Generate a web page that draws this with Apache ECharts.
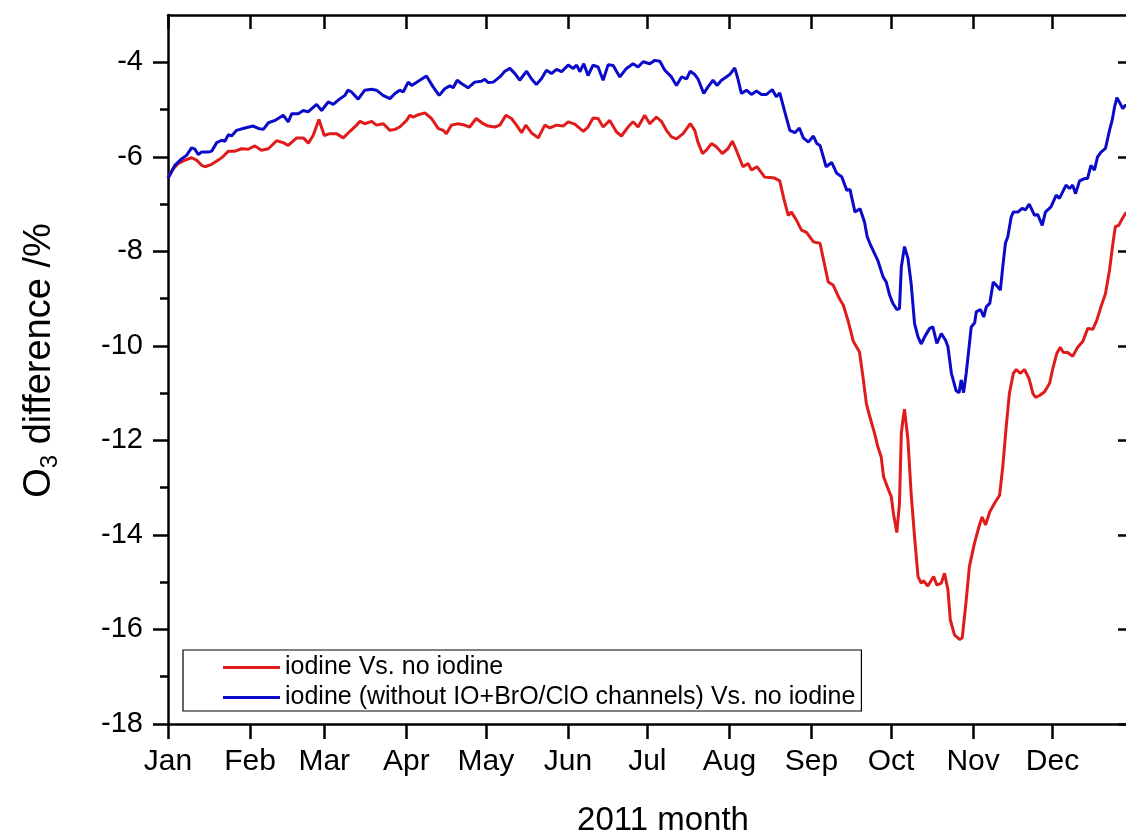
<!DOCTYPE html>
<html>
<head>
<meta charset="utf-8">
<script src="https://cdn.jsdelivr.net/npm/echarts@6/dist/echarts.min.js"></script>
<style>
  html, body { margin: 0; padding: 0; background: #ffffff; }
  #chart { width: 1126px; height: 835px; }
</style>
</head>
<body>
<div id="chart"></div>
<script>
// Month names and the day-of-year on which each month begins (2011)
const monthNames = ['Jan','Feb','Mar','Apr','May','Jun','Jul','Aug','Sep','Oct','Nov','Dec'];
const monthStarts = [0, 31, 59, 90, 120, 151, 181, 212, 243, 273, 304, 334];

// Y-axis tick values
const majorTicks = [-18, -16, -14, -12, -10, -8, -6, -4];
const minorTicks = [-17, -15, -13, -11, -9, -7, -5];

// Series names
const seriesNames = [
  'iodine Vs. no iodine',
  'iodine (without IO+BrO/ClO channels) Vs. no iodine'
];

// O3 difference (%) by day of year: iodine vs. no iodine
const redSeries = [
  [0,-6.43],[2,-6.25],[3.9,-6.14],[6.4,-6.07],[8.9,-6.02],[10.8,-6.07],[12.7,-6.18],[14,-6.21],
  [16.5,-6.16],[19,-6.07],[20.9,-5.99],[22.8,-5.88],[25.3,-5.88],[27.8,-5.83],[30.3,-5.84],
  [32.8,-5.77],[35.3,-5.86],[37.9,-5.83],[41,-5.66],[43.5,-5.7],[45.4,-5.76],[48.6,-5.6],
  [51.1,-5.6],[53,-5.71],[54.8,-5.55],[57,-5.21],[59,-5.55],[61.1,-5.51],[63.6,-5.51],
  [66.2,-5.6],[68.7,-5.46],[71.2,-5.33],[72.5,-5.25],[74.3,-5.3],[76.9,-5.25],[78.7,-5.33],
  [81.3,-5.3],[83.8,-5.44],[85.7,-5.42],[87.5,-5.37],[90.1,-5.23],[91.3,-5.12],[92.6,-5.16],
  [94.5,-5.11],[97,-5.07],[99.5,-5.19],[102,-5.4],[103.9,-5.44],[105.1,-5.51],[107,-5.33],
  [109.5,-5.3],[111.4,-5.32],[113.9,-5.37],[116.4,-5.19],[119,-5.3],[120.9,-5.35],[123.4,-5.37],
  [125.3,-5.33],[127.6,-5.12],[129.7,-5.19],[131.6,-5.33],[133.5,-5.49],[135.1,-5.33],
  [137.2,-5.49],[139.8,-5.6],[142.3,-5.33],[144.2,-5.39],[146.7,-5.33],[149.2,-5.35],
  [151.1,-5.26],[153.6,-5.31],[156.8,-5.46],[158.6,-5.37],[160.5,-5.18],[162.4,-5.19],
  [164.3,-5.37],[166.8,-5.23],[169.3,-5.47],[171.2,-5.56],[173.7,-5.37],[175.6,-5.26],
  [177.5,-5.37],[180,-5.12],[181.9,-5.3],[184.4,-5.16],[186.3,-5.25],[188.2,-5.44],
  [190.1,-5.58],[192,-5.62],[194.5,-5.51],[197.2,-5.3],[198.9,-5.44],[200.1,-5.69],
  [201.8,-5.93],[203.3,-5.86],[205.2,-5.72],[207.1,-5.79],[209.3,-5.93],[211.4,-5.83],
  [213.1,-5.67],[214.6,-5.86],[217.1,-6.21],[219,-6.14],[220.3,-6.28],[222.4,-6.21],
  [225.3,-6.43],[227.2,-6.44],[229.1,-6.45],[231,-6.51],[232.5,-6.88],[234.2,-7.24],
  [235.4,-7.17],[237.3,-7.34],[239.2,-7.55],[241.1,-7.6],[243.7,-7.8],[246.2,-7.83],
  [247.4,-8.15],[249.3,-8.65],[251.2,-8.72],[253.5,-9.0],[255,-9.14],[256.9,-9.49],
  [258.8,-9.91],[261.1,-10.13],[262.4,-10.65],[263.7,-11.22],[265,-11.5],[266.8,-11.85],
  [268,-12.13],[269.3,-12.35],[270.2,-12.77],[271.8,-13.01],[273.1,-13.19],[273.9,-13.54],
  [275.2,-13.95],[276.2,-13.33],[276.9,-11.85],[277.5,-11.57],[278.1,-11.34],[279.4,-11.99],
  [280.6,-13.12],[281.9,-14.04],[283.2,-14.88],[284.4,-15.02],[285.3,-14.97],[286.9,-15.08],
  [289.1,-14.88],[290.3,-15.06],[292,-15.02],[293.2,-14.81],[294.5,-15.16],[295.4,-15.8],
  [297,-16.12],[298.9,-16.21],[299.9,-16.18],[301.4,-15.38],[302.6,-14.67],[304.5,-14.18],
  [306.4,-13.79],[307.4,-13.62],[308.7,-13.79],[310.3,-13.51],[312.1,-13.33],[314,-13.16],
  [315.2,-12.56],[316.5,-11.71],[317.7,-11.01],[319.2,-10.58],[320.3,-10.5],[321.8,-10.58],
  [323.4,-10.5],[325.1,-10.69],[326.6,-11.01],[327.6,-11.09],[329.1,-11.05],[331,-10.97],
  [332.9,-10.79],[334.1,-10.48],[335.6,-10.16],[336.9,-10.03],[338.1,-10.14],[339.7,-10.14],
  [341.6,-10.22],[343.5,-10.03],[345.4,-9.91],[347.3,-9.63],[349.2,-9.65],[350.7,-9.46],
  [352.3,-9.17],[354,-8.89],[355.5,-8.4],[356.7,-7.87],[357.7,-7.48],[359,-7.45],
  [360.3,-7.31],[361.5,-7.2],[363,-7.15]
];

// O3 difference (%) by day of year: iodine without IO+BrO/ClO channels vs. no iodine
const blueSeries = [
  [0,-6.46],[2.6,-6.18],[5.2,-6.04],[7,-5.97],[8.9,-5.81],[10.2,-5.84],[11.4,-5.95],[12.7,-5.9],
  [15.2,-5.9],[16.5,-5.88],[18.4,-5.7],[20.3,-5.65],[21.5,-5.67],[22.8,-5.53],[24,-5.56],
  [25.9,-5.44],[29,-5.39],[32.2,-5.35],[34.1,-5.4],[36,-5.42],[37.9,-5.28],[40.4,-5.23],
  [43.5,-5.12],[45.4,-5.26],[46.7,-5.09],[49.2,-5.09],[51.1,-5.02],[52.9,-5.05],[56.1,-4.89],
  [58,-5.02],[60.5,-4.84],[62.4,-4.89],[64.3,-4.8],[66.8,-4.7],[68,-4.59],[69.3,-4.63],
  [71.8,-4.78],[74.3,-4.59],[76.9,-4.57],[78.7,-4.59],[81.2,-4.7],[83.8,-4.77],[85.7,-4.66],
  [87.5,-4.59],[88.8,-4.63],[90.7,-4.42],[92,-4.49],[94.5,-4.4],[97.6,-4.29],[100.1,-4.52],
  [102.4,-4.7],[104.5,-4.56],[106.4,-4.5],[107.7,-4.54],[109.2,-4.38],[110.8,-4.45],
  [113.3,-4.54],[115.8,-4.42],[118.4,-4.4],[119.6,-4.36],[120.9,-4.43],[122.8,-4.42],
  [125.3,-4.31],[127.2,-4.19],[129.1,-4.13],[131,-4.24],[132.8,-4.38],[135.4,-4.19],
  [137.2,-4.35],[139.1,-4.47],[141,-4.35],[142.9,-4.17],[144.8,-4.24],[146.7,-4.15],
  [148.6,-4.2],[151.1,-4.06],[153,-4.13],[154.3,-4.06],[155.5,-4.2],[157,-4.03],[158.6,-4.28],
  [160.5,-4.06],[162.4,-4.1],[164.3,-4.38],[166.2,-4.05],[168.1,-4.07],[170.6,-4.31],
  [173.1,-4.13],[175.6,-4.03],[177.5,-4.1],[179.4,-3.99],[181.9,-4.03],[183.8,-3.96],
  [185.7,-3.98],[187.6,-4.17],[190.1,-4.31],[192,-4.49],[193.9,-4.31],[195.8,-4.35],
  [197.2,-4.19],[198.9,-4.26],[200.1,-4.35],[202.3,-4.66],[203.9,-4.52],[205.8,-4.38],
  [207.3,-4.49],[209,-4.38],[210.8,-4.31],[212.1,-4.26],[214,-4.12],[215.2,-4.35],
  [216.5,-4.66],[218.4,-4.59],[220.3,-4.68],[222.2,-4.61],[224.1,-4.68],[226,-4.68],
  [228.2,-4.58],[229.7,-4.73],[231,-4.65],[232.9,-5.05],[234.8,-5.44],[236.7,-5.49],
  [238.4,-5.39],[239.9,-5.6],[241.8,-5.69],[243.7,-5.56],[245,-5.72],[246.2,-5.76],
  [248.5,-6.21],[250.6,-6.12],[252.5,-6.35],[254.4,-6.42],[256.3,-6.71],[257.5,-6.69],
  [259.4,-7.17],[261.3,-7.1],[263,-7.38],[264,-7.69],[265,-7.83],[266.8,-8.05],[268,-8.19],
  [270,-8.54],[271.2,-8.65],[272.5,-8.93],[273.7,-9.1],[275.2,-9.23],[276.2,-9.21],
  [276.9,-8.33],[278.1,-7.9],[279.4,-8.15],[280.6,-8.68],[281.9,-9.53],[283.2,-9.81],
  [284.4,-9.96],[285.7,-9.81],[287.6,-9.63],[288.8,-9.6],[290.3,-9.95],[292,-9.74],
  [293.6,-9.88],[294.5,-10.02],[295.8,-10.58],[297.6,-10.95],[298.7,-10.99],[299.5,-10.72],
  [300.4,-10.99],[301.4,-10.58],[303.3,-9.6],[304.6,-9.51],[305.2,-9.28],[306.8,-9.23],
  [308,-9.39],[309,-9.17],[310.3,-9.1],[311.6,-8.65],[312.8,-8.72],[314.3,-8.82],
  [315.2,-8.33],[316.2,-7.83],[317.1,-7.69],[318.4,-7.27],[319.2,-7.17],[320.9,-7.17],
  [322.5,-7.09],[323.8,-7.12],[325.2,-7.0],[327.2,-7.24],[328.4,-7.22],[330.1,-7.45],
  [331.3,-7.17],[333.4,-7.06],[335.4,-6.81],[336.6,-6.88],[339.1,-6.6],[340.4,-6.67],
  [341.6,-6.6],[342.7,-6.78],[344.2,-6.51],[346.1,-6.46],[347.2,-6.46],[348.5,-6.18],
  [349.8,-6.28],[351,-6.0],[352.3,-5.9],[354,-5.82],[355.5,-5.44],[356.5,-5.23],
  [357.4,-4.95],[358.3,-4.75],[359.5,-4.87],[360.5,-4.98],[361.5,-4.91],[363,-4.95]
];

const FONT = '"Liberation Sans", Arial, Helvetica, sans-serif';
const AXIS_W = 2.5;
const black = '#000000';

const chart = echarts.init(document.getElementById('chart'), null, { renderer: 'canvas' });

const yBase = {
  type: 'value', min: -18, max: -3, gridIndex: 0,
  splitLine: { show: false }
};

chart.setOption({
  backgroundColor: '#ffffff',
  animation: false,
  textStyle: { fontFamily: FONT, color: black },
  grid: { left: 168, top: 15, width: 964, height: 709, outerBoundsMode: 'none', containLabel: false },
  legend: {
    data: seriesNames,
    orient: 'vertical',
    left: 183, top: 650,
    padding: [5, 6, 1, 40],
    itemGap: 5,
    itemWidth: 57, itemHeight: 3,
    icon: 'rect',
    borderColor: black, borderWidth: 1.2, borderRadius: 0,
    backgroundColor: '#ffffff',
    textStyle: { fontFamily: FONT, fontSize: 25, lineHeight: 25, color: black }
  },
  xAxis: [
    {
      type: 'value', min: 0, max: 364, position: 'bottom',
      axisLine: { show: true, onZero: false, lineStyle: { color: black, width: AXIS_W } },
      axisTick: { show: true, inside: false, length: 15, customValues: monthStarts,
                  lineStyle: { color: black, width: AXIS_W } },
      axisLabel: { show: true, customValues: monthStarts, margin: 23, fontSize: 30,
                   fontFamily: FONT, color: black,
                   formatter: v => monthNames[monthStarts.indexOf(v)] || '' },
      splitLine: { show: false },
      name: '2011 month', nameLocation: 'middle', nameGap: 80,
      nameTextStyle: { fontSize: 33, fontFamily: FONT, color: black, padding: [0, 0, 0, 26] }
    },
    {
      type: 'value', min: 0, max: 364, position: 'top',
      axisLine: { show: true, onZero: false, lineStyle: { color: black, width: AXIS_W } },
      axisTick: { show: true, inside: true, length: 14, customValues: monthStarts,
                  lineStyle: { color: black, width: AXIS_W } },
      axisLabel: { show: false },
      splitLine: { show: false }
    }
  ],
  yAxis: [
    Object.assign({}, yBase, {
      position: 'left',
      axisLine: { show: true, onZero: false, lineStyle: { color: black, width: AXIS_W } },
      axisTick: { show: true, inside: false, length: 15, customValues: majorTicks,
                  lineStyle: { color: black, width: AXIS_W } },
      axisLabel: { show: true, customValues: majorTicks, margin: 25, fontSize: 29,
                   fontFamily: FONT, color: black },
      name: '{a|O}{s|3}{a| difference /%}',
      nameLocation: 'middle', nameGap: 106,
      nameTextStyle: {
        fontFamily: FONT, color: black, padding: [0, 0, 0, 18],
        rich: {
          a: { fontSize: 38, lineHeight: 44, fontFamily: FONT, color: black },
          s: { fontSize: 24, lineHeight: 24, verticalAlign: 'bottom', fontFamily: FONT, color: black }
        }
      }
    }),
    Object.assign({}, yBase, {
      position: 'right',
      axisLine: { show: true, onZero: false, lineStyle: { color: black, width: AXIS_W } },
      axisTick: { show: true, inside: true, length: 14, customValues: majorTicks,
                  lineStyle: { color: black, width: AXIS_W } },
      axisLabel: { show: false }
    }),
    Object.assign({}, yBase, {
      position: 'left',
      axisLine: { show: false },
      axisTick: { show: true, inside: false, length: 8, customValues: minorTicks,
                  lineStyle: { color: black, width: AXIS_W } },
      axisLabel: { show: false }
    }),
    Object.assign({}, yBase, {
      position: 'right',
      axisLine: { show: false },
      axisTick: { show: true, inside: true, length: 8, customValues: minorTicks,
                  lineStyle: { color: black, width: AXIS_W } },
      axisLabel: { show: false }
    })
  ],
  series: [
    {
      name: seriesNames[0], type: 'line', xAxisIndex: 0, yAxisIndex: 0,
      data: redSeries, showSymbol: false, symbol: 'none', smooth: false,
      color: '#e01b1b',
      lineStyle: { color: '#e01b1b', width: 3 }
    },
    {
      name: seriesNames[1], type: 'line', xAxisIndex: 0, yAxisIndex: 0,
      data: blueSeries, showSymbol: false, symbol: 'none', smooth: false,
      color: '#0a0ac8',
      lineStyle: { color: '#0a0ac8', width: 3 }
    }
  ]
});
</script>
</body>
</html>
